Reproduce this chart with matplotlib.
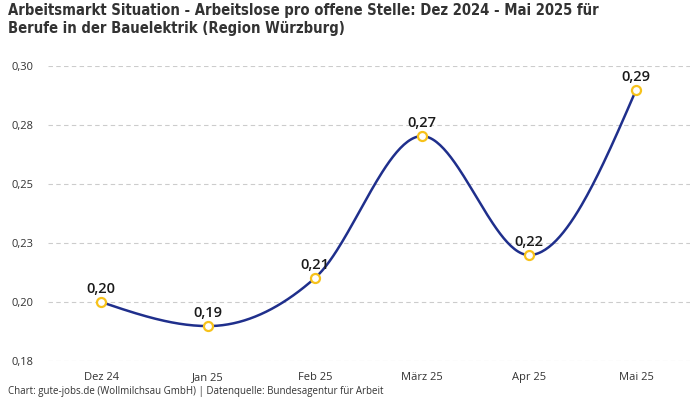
import numpy as np
import matplotlib
matplotlib.use("Agg")
from matplotlib import pyplot as plt
from matplotlib.ticker import FuncFormatter

months = ["Dez 24", "Jan 25", "Feb 25", "März 25", "Apr 25", "Mai 25"]
values = [0.200, 0.1898, 0.2102, 0.2703, 0.2199, 0.2898]
y_ticks = [0.175, 0.2, 0.225, 0.25, 0.275, 0.3]

title = ("Arbeitsmarkt Situation - Arbeitslose pro offene Stelle: Dez 2024 - Mai 2025 für\n"
         "Berufe in der Bauelektrik (Region Würzburg)")
source = "Chart: gute-jobs.de (Wollmilchsau GmbH) | Datenquelle: Bundesagentur für Arbeit"

line_color = "#1f2f8c"
marker_color = "#f7c21b"
text_color = "#333333"


def monotone_curve(x, y, steps=60):
    # d3 style monotone cubic (Steffen) for a smooth line through the points
    x = np.asarray(x, float)
    y = np.asarray(y, float)
    n = len(x)
    h = np.diff(x)
    s = np.diff(y) / h
    m = np.zeros(n)
    for i in range(1, n - 1):
        p = (s[i - 1] * h[i] + s[i] * h[i - 1]) / (h[i - 1] + h[i])
        m[i] = (np.sign(s[i - 1]) + np.sign(s[i])) * min(abs(s[i - 1]), abs(s[i]), 0.5 * abs(p))
    m[0] = (3 * s[0] - m[1]) / 2
    m[-1] = (3 * s[-1] - m[-2]) / 2
    xs, ys = [], []
    for i in range(n - 1):
        t = np.linspace(0, 1, steps)
        h00 = 2 * t**3 - 3 * t**2 + 1
        h10 = t**3 - 2 * t**2 + t
        h01 = -2 * t**3 + 3 * t**2
        h11 = t**3 - t**2
        xs.extend(x[i] + t * h[i])
        ys.extend(h00 * y[i] + h10 * h[i] * m[i] + h01 * y[i + 1] + h11 * h[i] * m[i + 1])
    return np.array(xs), np.array(ys)


def de_fmt(v, _=None):
    return f"{v + 1e-9:.2f}".replace(".", ",")


plt.rcParams["font.family"] = ["Open Sans", "DejaVu Sans"]

fig = plt.figure(figsize=(7, 4), dpi=100)
ax = fig.add_axes([0.068, 0.0975, 0.917, 0.7375])

pos = np.arange(len(months))
cx, cy = monotone_curve(pos, values)
ax.plot(cx, cy, color=line_color, linewidth=1.8, zorder=3)
ax.plot(pos, values, linestyle="none", marker="o", markersize=6.5,
        markerfacecolor="white", markeredgecolor=marker_color, markeredgewidth=1.6, zorder=4)

for xi, v in zip(pos, values):
    ax.annotate(de_fmt(v), (xi, v), xytext=(0, 4.5), textcoords="offset points",
                ha="center", va="bottom", fontsize=10.5, fontweight="semibold", color="#1a1a1a", zorder=5)

ax.set_xlim(-0.5, len(months) - 0.5)
ax.set_ylim(0.175, 0.3)
ax.set_xticks(pos)
ax.set_xticklabels(months)
ax.set_yticks(y_ticks)
ax.yaxis.set_major_formatter(FuncFormatter(de_fmt))
ax.tick_params(axis="both", length=0, labelsize=8, labelcolor=text_color)
ax.tick_params(axis="x", pad=8)
ax.tick_params(axis="y", pad=10)
ax.grid(axis="y", color="#cccccc", linestyle=(0, (4, 3)), linewidth=0.8)
ax.set_axisbelow(True)
for side in ax.spines.values():
    side.set_visible(False)

fig.text(0.011, 0.993, title, ha="left", va="top", fontsize=10.6, fontweight="bold",
         color=text_color, family="DejaVu Sans", fontstretch="condensed", linespacing=1.25)
fig.text(0.011, 0.008, source, ha="left", va="bottom", fontsize=7, color=text_color)

fig.savefig("out.png", dpi=100)
